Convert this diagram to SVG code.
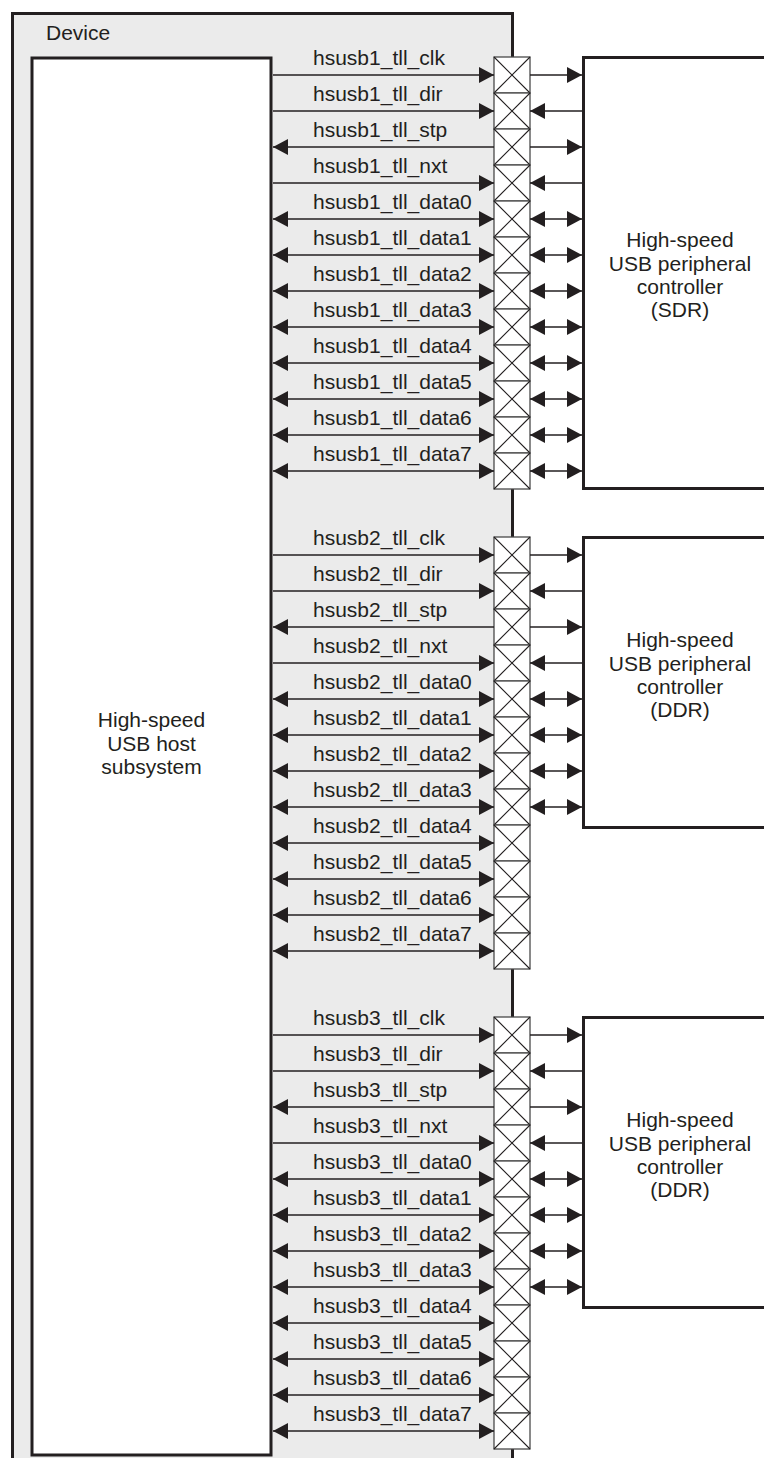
<svg xmlns="http://www.w3.org/2000/svg" xmlns:xlink="http://www.w3.org/1999/xlink" width="764" height="1458" viewBox="0 0 764 1458">
<style>
.t{font-family:"Liberation Sans",Arial,sans-serif;font-size:21px;fill:#231f20}
.c{text-anchor:middle}
.box{fill:#fff;stroke:#231f20;stroke-width:3}
.sig{stroke:#231f20;stroke-width:1.3;fill:none}
.padr{fill:#fff;stroke:#4a4a4a;stroke-width:1.3}
.padx{stroke:#231f20;stroke-width:1.1;fill:none}
</style>
<defs>
<marker id="ah" viewBox="0 0 15 16" refX="15" refY="8" markerWidth="15" markerHeight="16" markerUnits="userSpaceOnUse" orient="auto-start-reverse">
<path d="M0,0 L15,8 L0,16 z" fill="#231f20"/>
</marker>
<g id="pad"><rect class="padr" x="0" y="0" width="36" height="36"/><path class="padx" d="M0,0 L36,36 M36,0 L0,36"/></g>
</defs>
<rect width="764" height="1458" fill="#fff"/>
<g id="device">
<rect x="12.5" y="13.5" width="500" height="1460" fill="#ebebeb" stroke="#231f20" stroke-width="3"/>
<text class="t" x="46" y="40">Device</text>
</g>
<g id="host">
<rect class="box" x="32" y="58" width="239" height="1397"/>
<text class="t c" x="151.5" y="727">High-speed</text>
<text class="t c" x="151.5" y="751">USB host</text>
<text class="t c" x="151.5" y="774">subsystem</text>
</g>
<g id="periph1">
<rect class="box" x="583.5" y="57.5" width="300" height="431"/>
<text class="t c" x="680" y="247">High-speed</text>
<text class="t c" x="680" y="271">USB peripheral</text>
<text class="t c" x="680" y="294">controller</text>
<text class="t c" x="680" y="317">(SDR)</text>
</g>
<g id="periph2">
<rect class="box" x="583.5" y="537.5" width="300" height="290"/>
<text class="t c" x="680" y="647">High-speed</text>
<text class="t c" x="680" y="671">USB peripheral</text>
<text class="t c" x="680" y="694">controller</text>
<text class="t c" x="680" y="717">(DDR)</text>
</g>
<g id="periph3">
<rect class="box" x="583.5" y="1017.5" width="300" height="290"/>
<text class="t c" x="680" y="1127">High-speed</text>
<text class="t c" x="680" y="1151">USB peripheral</text>
<text class="t c" x="680" y="1174">controller</text>
<text class="t c" x="680" y="1197">(DDR)</text>
</g>
<g id="pads1">
<use xlink:href="#pad" x="494" y="57"/><use xlink:href="#pad" x="494" y="93"/><use xlink:href="#pad" x="494" y="129"/><use xlink:href="#pad" x="494" y="165"/>
<use xlink:href="#pad" x="494" y="201"/><use xlink:href="#pad" x="494" y="237"/><use xlink:href="#pad" x="494" y="273"/><use xlink:href="#pad" x="494" y="309"/>
<use xlink:href="#pad" x="494" y="345"/><use xlink:href="#pad" x="494" y="381"/><use xlink:href="#pad" x="494" y="417"/><use xlink:href="#pad" x="494" y="453"/>
</g>
<g id="pads2">
<use xlink:href="#pad" x="494" y="537"/><use xlink:href="#pad" x="494" y="573"/><use xlink:href="#pad" x="494" y="609"/><use xlink:href="#pad" x="494" y="645"/>
<use xlink:href="#pad" x="494" y="681"/><use xlink:href="#pad" x="494" y="717"/><use xlink:href="#pad" x="494" y="753"/><use xlink:href="#pad" x="494" y="789"/>
<use xlink:href="#pad" x="494" y="825"/><use xlink:href="#pad" x="494" y="861"/><use xlink:href="#pad" x="494" y="897"/><use xlink:href="#pad" x="494" y="933"/>
</g>
<g id="pads3">
<use xlink:href="#pad" x="494" y="1017"/><use xlink:href="#pad" x="494" y="1053"/><use xlink:href="#pad" x="494" y="1089"/><use xlink:href="#pad" x="494" y="1125"/>
<use xlink:href="#pad" x="494" y="1161"/><use xlink:href="#pad" x="494" y="1197"/><use xlink:href="#pad" x="494" y="1233"/><use xlink:href="#pad" x="494" y="1269"/>
<use xlink:href="#pad" x="494" y="1305"/><use xlink:href="#pad" x="494" y="1341"/><use xlink:href="#pad" x="494" y="1377"/><use xlink:href="#pad" x="494" y="1413"/>
</g>
<g id="connectors">
<!-- block 1 -->
<line class="sig" x1="273" y1="75" x2="494" y2="75" marker-end="url(#ah)"/>
<line class="sig" x1="273" y1="111" x2="494" y2="111" marker-end="url(#ah)"/>
<line class="sig" x1="273" y1="147" x2="494" y2="147" marker-start="url(#ah)"/>
<line class="sig" x1="273" y1="183" x2="494" y2="183" marker-end="url(#ah)"/>
<line class="sig" x1="273" y1="219" x2="494" y2="219" marker-start="url(#ah)" marker-end="url(#ah)"/>
<line class="sig" x1="273" y1="255" x2="494" y2="255" marker-start="url(#ah)" marker-end="url(#ah)"/>
<line class="sig" x1="273" y1="291" x2="494" y2="291" marker-start="url(#ah)" marker-end="url(#ah)"/>
<line class="sig" x1="273" y1="327" x2="494" y2="327" marker-start="url(#ah)" marker-end="url(#ah)"/>
<line class="sig" x1="273" y1="363" x2="494" y2="363" marker-start="url(#ah)" marker-end="url(#ah)"/>
<line class="sig" x1="273" y1="399" x2="494" y2="399" marker-start="url(#ah)" marker-end="url(#ah)"/>
<line class="sig" x1="273" y1="435" x2="494" y2="435" marker-start="url(#ah)" marker-end="url(#ah)"/>
<line class="sig" x1="273" y1="471" x2="494" y2="471" marker-start="url(#ah)" marker-end="url(#ah)"/>
<line class="sig" x1="530" y1="75" x2="582" y2="75" marker-end="url(#ah)"/>
<line class="sig" x1="530" y1="111" x2="582" y2="111" marker-start="url(#ah)"/>
<line class="sig" x1="530" y1="147" x2="582" y2="147" marker-end="url(#ah)"/>
<line class="sig" x1="530" y1="183" x2="582" y2="183" marker-start="url(#ah)"/>
<line class="sig" x1="530" y1="219" x2="582" y2="219" marker-start="url(#ah)" marker-end="url(#ah)"/>
<line class="sig" x1="530" y1="255" x2="582" y2="255" marker-start="url(#ah)" marker-end="url(#ah)"/>
<line class="sig" x1="530" y1="291" x2="582" y2="291" marker-start="url(#ah)" marker-end="url(#ah)"/>
<line class="sig" x1="530" y1="327" x2="582" y2="327" marker-start="url(#ah)" marker-end="url(#ah)"/>
<line class="sig" x1="530" y1="363" x2="582" y2="363" marker-start="url(#ah)" marker-end="url(#ah)"/>
<line class="sig" x1="530" y1="399" x2="582" y2="399" marker-start="url(#ah)" marker-end="url(#ah)"/>
<line class="sig" x1="530" y1="435" x2="582" y2="435" marker-start="url(#ah)" marker-end="url(#ah)"/>
<line class="sig" x1="530" y1="471" x2="582" y2="471" marker-start="url(#ah)" marker-end="url(#ah)"/>
<!-- block 2 -->
<line class="sig" x1="273" y1="555" x2="494" y2="555" marker-end="url(#ah)"/>
<line class="sig" x1="273" y1="591" x2="494" y2="591" marker-end="url(#ah)"/>
<line class="sig" x1="273" y1="627" x2="494" y2="627" marker-start="url(#ah)"/>
<line class="sig" x1="273" y1="663" x2="494" y2="663" marker-end="url(#ah)"/>
<line class="sig" x1="273" y1="699" x2="494" y2="699" marker-start="url(#ah)" marker-end="url(#ah)"/>
<line class="sig" x1="273" y1="735" x2="494" y2="735" marker-start="url(#ah)" marker-end="url(#ah)"/>
<line class="sig" x1="273" y1="771" x2="494" y2="771" marker-start="url(#ah)" marker-end="url(#ah)"/>
<line class="sig" x1="273" y1="807" x2="494" y2="807" marker-start="url(#ah)" marker-end="url(#ah)"/>
<line class="sig" x1="273" y1="843" x2="494" y2="843" marker-start="url(#ah)" marker-end="url(#ah)"/>
<line class="sig" x1="273" y1="879" x2="494" y2="879" marker-start="url(#ah)" marker-end="url(#ah)"/>
<line class="sig" x1="273" y1="915" x2="494" y2="915" marker-start="url(#ah)" marker-end="url(#ah)"/>
<line class="sig" x1="273" y1="951" x2="494" y2="951" marker-start="url(#ah)" marker-end="url(#ah)"/>
<line class="sig" x1="530" y1="555" x2="582" y2="555" marker-end="url(#ah)"/>
<line class="sig" x1="530" y1="591" x2="582" y2="591" marker-start="url(#ah)"/>
<line class="sig" x1="530" y1="627" x2="582" y2="627" marker-end="url(#ah)"/>
<line class="sig" x1="530" y1="663" x2="582" y2="663" marker-start="url(#ah)"/>
<line class="sig" x1="530" y1="699" x2="582" y2="699" marker-start="url(#ah)" marker-end="url(#ah)"/>
<line class="sig" x1="530" y1="735" x2="582" y2="735" marker-start="url(#ah)" marker-end="url(#ah)"/>
<line class="sig" x1="530" y1="771" x2="582" y2="771" marker-start="url(#ah)" marker-end="url(#ah)"/>
<line class="sig" x1="530" y1="807" x2="582" y2="807" marker-start="url(#ah)" marker-end="url(#ah)"/>
<!-- block 3 -->
<line class="sig" x1="273" y1="1035" x2="494" y2="1035" marker-end="url(#ah)"/>
<line class="sig" x1="273" y1="1071" x2="494" y2="1071" marker-end="url(#ah)"/>
<line class="sig" x1="273" y1="1107" x2="494" y2="1107" marker-start="url(#ah)"/>
<line class="sig" x1="273" y1="1143" x2="494" y2="1143" marker-end="url(#ah)"/>
<line class="sig" x1="273" y1="1179" x2="494" y2="1179" marker-start="url(#ah)" marker-end="url(#ah)"/>
<line class="sig" x1="273" y1="1215" x2="494" y2="1215" marker-start="url(#ah)" marker-end="url(#ah)"/>
<line class="sig" x1="273" y1="1251" x2="494" y2="1251" marker-start="url(#ah)" marker-end="url(#ah)"/>
<line class="sig" x1="273" y1="1287" x2="494" y2="1287" marker-start="url(#ah)" marker-end="url(#ah)"/>
<line class="sig" x1="273" y1="1323" x2="494" y2="1323" marker-start="url(#ah)" marker-end="url(#ah)"/>
<line class="sig" x1="273" y1="1359" x2="494" y2="1359" marker-start="url(#ah)" marker-end="url(#ah)"/>
<line class="sig" x1="273" y1="1395" x2="494" y2="1395" marker-start="url(#ah)" marker-end="url(#ah)"/>
<line class="sig" x1="273" y1="1431" x2="494" y2="1431" marker-start="url(#ah)" marker-end="url(#ah)"/>
<line class="sig" x1="530" y1="1035" x2="582" y2="1035" marker-end="url(#ah)"/>
<line class="sig" x1="530" y1="1071" x2="582" y2="1071" marker-start="url(#ah)"/>
<line class="sig" x1="530" y1="1107" x2="582" y2="1107" marker-end="url(#ah)"/>
<line class="sig" x1="530" y1="1143" x2="582" y2="1143" marker-start="url(#ah)"/>
<line class="sig" x1="530" y1="1179" x2="582" y2="1179" marker-start="url(#ah)" marker-end="url(#ah)"/>
<line class="sig" x1="530" y1="1215" x2="582" y2="1215" marker-start="url(#ah)" marker-end="url(#ah)"/>
<line class="sig" x1="530" y1="1251" x2="582" y2="1251" marker-start="url(#ah)" marker-end="url(#ah)"/>
<line class="sig" x1="530" y1="1287" x2="582" y2="1287" marker-start="url(#ah)" marker-end="url(#ah)"/>
</g>
<g id="labels">
<text class="t" x="313" y="65">hsusb1_tll_clk</text>
<text class="t" x="313" y="101">hsusb1_tll_dir</text>
<text class="t" x="313" y="137">hsusb1_tll_stp</text>
<text class="t" x="313" y="173">hsusb1_tll_nxt</text>
<text class="t" x="313" y="209">hsusb1_tll_data0</text>
<text class="t" x="313" y="245">hsusb1_tll_data1</text>
<text class="t" x="313" y="281">hsusb1_tll_data2</text>
<text class="t" x="313" y="317">hsusb1_tll_data3</text>
<text class="t" x="313" y="353">hsusb1_tll_data4</text>
<text class="t" x="313" y="389">hsusb1_tll_data5</text>
<text class="t" x="313" y="425">hsusb1_tll_data6</text>
<text class="t" x="313" y="461">hsusb1_tll_data7</text>
<text class="t" x="313" y="545">hsusb2_tll_clk</text>
<text class="t" x="313" y="581">hsusb2_tll_dir</text>
<text class="t" x="313" y="617">hsusb2_tll_stp</text>
<text class="t" x="313" y="653">hsusb2_tll_nxt</text>
<text class="t" x="313" y="689">hsusb2_tll_data0</text>
<text class="t" x="313" y="725">hsusb2_tll_data1</text>
<text class="t" x="313" y="761">hsusb2_tll_data2</text>
<text class="t" x="313" y="797">hsusb2_tll_data3</text>
<text class="t" x="313" y="833">hsusb2_tll_data4</text>
<text class="t" x="313" y="869">hsusb2_tll_data5</text>
<text class="t" x="313" y="905">hsusb2_tll_data6</text>
<text class="t" x="313" y="941">hsusb2_tll_data7</text>
<text class="t" x="313" y="1025">hsusb3_tll_clk</text>
<text class="t" x="313" y="1061">hsusb3_tll_dir</text>
<text class="t" x="313" y="1097">hsusb3_tll_stp</text>
<text class="t" x="313" y="1133">hsusb3_tll_nxt</text>
<text class="t" x="313" y="1169">hsusb3_tll_data0</text>
<text class="t" x="313" y="1205">hsusb3_tll_data1</text>
<text class="t" x="313" y="1241">hsusb3_tll_data2</text>
<text class="t" x="313" y="1277">hsusb3_tll_data3</text>
<text class="t" x="313" y="1313">hsusb3_tll_data4</text>
<text class="t" x="313" y="1349">hsusb3_tll_data5</text>
<text class="t" x="313" y="1385">hsusb3_tll_data6</text>
<text class="t" x="313" y="1421">hsusb3_tll_data7</text>
</g>
</svg>
